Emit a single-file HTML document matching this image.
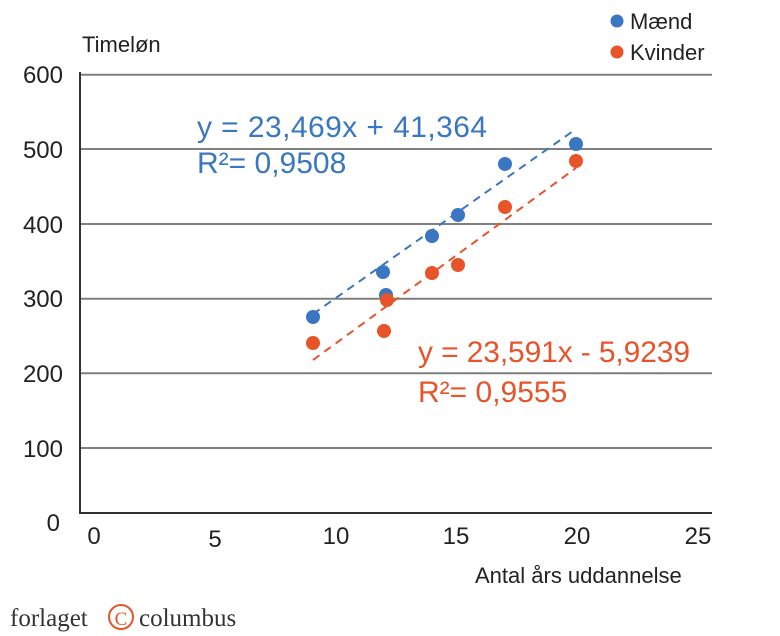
<!DOCTYPE html>
<html><head><meta charset="utf-8"><style>
body{margin:0;background:#fff}
svg{display:block;font-family:"Liberation Sans",sans-serif}
</style></head><body>
<svg width="780" height="636" viewBox="0 0 780 636">
<g stroke="#7f7f7f" stroke-width="2">
<line x1="80" y1="74.7" x2="712" y2="74.7"/>
<line x1="80" y1="149" x2="712" y2="149"/>
<line x1="80" y1="224" x2="712" y2="224"/>
<line x1="80" y1="298.7" x2="712" y2="298.7"/>
<line x1="80" y1="373.3" x2="712" y2="373.3"/>
<line x1="80" y1="448" x2="712" y2="448"/>
</g>
<line x1="80" y1="72" x2="80" y2="513" stroke="#333" stroke-width="2"/>
<line x1="79" y1="513" x2="712" y2="513" stroke="#333" stroke-width="2"/>
<g font-size="24" fill="#222" text-anchor="end">
<text x="63" y="83">600</text><text x="63" y="158">500</text><text x="63" y="233">400</text>
<text x="63" y="307">300</text><text x="63" y="382">200</text><text x="63" y="457">100</text>
<text x="60" y="531">0</text>
</g>
<g font-size="24" fill="#222" text-anchor="middle">
<text x="94" y="544">0</text><text x="215" y="547">5</text><text x="336" y="544">10</text>
<text x="456" y="544">15</text><text x="577" y="544">20</text><text x="698" y="544">25</text>
</g>
<text x="82" y="52" font-size="22" fill="#222">Timeløn</text>
<text x="475" y="583" font-size="22" fill="#222">Antal års uddannelse</text>
<circle cx="617" cy="21" r="6.5" fill="#3a76c1"/><text x="630" y="29" font-size="22" fill="#222">Mænd</text>
<circle cx="617" cy="52" r="6.5" fill="#e8542a"/><text x="630" y="60" font-size="22" fill="#222">Kvinder</text>
<line x1="313" y1="314" x2="576" y2="129" stroke="#3a76c1" stroke-width="2" stroke-dasharray="8,6"/>
<line x1="313" y1="360" x2="576" y2="168" stroke="#e8542a" stroke-width="2" stroke-dasharray="8,6"/>
<g fill="#3a76c1">
<circle cx="313" cy="317" r="7"/><circle cx="383" cy="272" r="7"/><circle cx="386" cy="295" r="7"/>
<circle cx="432" cy="236" r="7"/><circle cx="458" cy="215" r="7"/><circle cx="505" cy="164" r="7"/><circle cx="576" cy="144" r="7"/>
</g>
<g fill="#e8542a">
<circle cx="313" cy="343" r="7"/><circle cx="384" cy="331" r="7"/><circle cx="387" cy="300" r="7"/>
<circle cx="432" cy="273" r="7"/><circle cx="458" cy="265" r="7"/><circle cx="505" cy="207" r="7"/><circle cx="576" cy="161" r="7"/>
</g>
<text x="197" y="137" font-size="30" fill="#3a76c1" textLength="290">y = 23,469x + 41,364</text>
<text x="197" y="173" font-size="30" fill="#3a76c1">R²= 0,9508</text>
<text x="418" y="362" font-size="30" fill="#e8542a" textLength="272">y = 23,591x - 5,9239</text>
<text x="418" y="402" font-size="30" fill="#e8542a">R²= 0,9555</text>
<text x="10" y="626" font-size="25" fill="#333" font-family="Liberation Serif,serif">forlaget</text>
<circle cx="121" cy="617" r="12" fill="none" stroke="#e8542a" stroke-width="2"/>
<text x="121" y="625" font-size="19" fill="#e8542a" text-anchor="middle" font-family="Liberation Serif,serif">C</text>
<text x="139" y="626" font-size="25" fill="#333" font-family="Liberation Serif,serif">columbus</text>
</svg>
</body></html>
